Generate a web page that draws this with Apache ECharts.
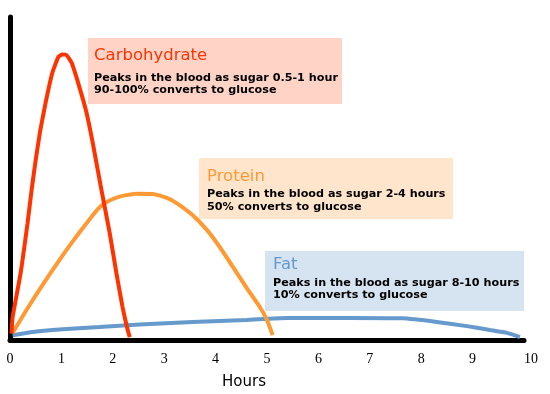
<!DOCTYPE html>
<html>
<head>
<meta charset="utf-8">
<script src="https://cdn.jsdelivr.net/npm/echarts@6/dist/echarts.min.js"></script>
<style>
html,body{margin:0;padding:0;background:#fff;}
#chart{width:550px;height:394px;}
</style>
</head>
<body>
<div id="chart"></div>
<script>
// Data (x = hours, y = relative blood-sugar level, 0-100)
const xTicks = ['0','1','2','3','4','5','6','7','8','9','10'];

const carbHours = [0.03,0.05,0.21,0.34,0.42,0.50,0.59,0.70,0.82,0.94,1.02,1.10,1.20,1.35,1.49,1.61,1.78,1.94,2.07,2.19,2.29,2.33];
const carbLevel = [2.0,7.0,21.0,36.0,46.4,55.7,65.0,74.0,82.5,87.6,88.4,88.2,85.8,78.3,70.3,61.0,46.4,33.1,20.7,10.2,3.1,0.9];

const proteinHours = [0.05,0.32,0.57,0.83,1.10,1.35,1.61,1.74,1.88,2.13,2.46,2.78,3.05,3.24,3.55,3.83,4.08,4.33,4.61,4.86,5.00,5.11];
const proteinLevel = [2.2,9.3,15.5,21.7,27.9,33.3,38.6,41.0,42.7,44.4,45.3,45.2,44.0,42.4,38.7,34.1,28.8,22.8,16.0,10.2,6.2,1.5];

const fatHours = [0.05,0.44,1.10,1.74,2.52,3.55,4.60,5.38,6.61,7.64,8.30,8.89,9.34,9.67,9.92];
const fatLevel = [1.5,2.5,3.4,4.0,4.8,5.6,6.2,6.8,6.8,6.7,5.6,4.3,3.1,2.2,0.9];

const nutrientNames = ['Carbohydrate','Protein','Fat'];
const nutrientLine1 = ['Peaks in the blood as sugar 0.5-1 hour','Peaks in the blood as sugar 2-4 hours','Peaks in the blood as sugar 8-10 hours'];
const nutrientLine2 = ['90-100% converts to glucose','50% converts to glucose','10% converts to glucose'];

const lineColors = ['#FF3300','#FF9933','#6699CC'];
const boxColors = ['#FFD3C6','#FFE5CC','#D6E3F1'];
const boxRects = [[88,38,254,66],[199,158,254,61],[265,251,259,60]];
const textLeft = [94,207,273];
const titleY = [56,177,265];
const bodyY = [[78,90.5],[194,207],[283,295.5]];

function pairs(xs, ys){ return xs.map((x,i)=>[x, ys[i]]); }

const graphics = [];
for (let i=0;i<3;i++){
  const r = boxRects[i];
  graphics.push({type:'rect', z:1, shape:{x:r[0],y:r[1],width:r[2],height:r[3]}, style:{fill:boxColors[i]}});
  graphics.push({type:'text', z:2, x:textLeft[i], y:titleY[i], style:{text:nutrientNames[i], fill:lineColors[i], font:'16.5px "DejaVu Sans"', textAlign:'left', textVerticalAlign:'middle'}});
  graphics.push({type:'text', z:2, x:textLeft[i], y:bodyY[i][0], style:{text:nutrientLine1[i], fill:'#000', font:'bold 11.2px "DejaVu Sans"', textAlign:'left', textVerticalAlign:'middle'}});
  graphics.push({type:'text', z:2, x:textLeft[i], y:bodyY[i][1], style:{text:nutrientLine2[i], fill:'#000', font:'bold 11.2px "DejaVu Sans"', textAlign:'left', textVerticalAlign:'middle'}});
}
graphics.push({type:'text', z:2, x:222, y:382, style:{text:'Hours', fill:'#000', font:'15px "DejaVu Sans"', textAlign:'left', textVerticalAlign:'middle'}});

const chart = echarts.init(document.getElementById('chart'), null, {renderer:'canvas'});
chart.setOption({
  animation:false,
  backgroundColor:'#fff',
  grid:{left:10, right:26, top:17, bottom:54, containLabel:false},
  xAxis:{
    type:'value', min:0, max:10, interval:1,
    axisLine:{show:true, lineStyle:{color:'#000', width:5}},
    axisTick:{show:false},
    splitLine:{show:false},
    axisLabel:{
      color:'#000', fontFamily:'"Liberation Serif", serif', fontSize:14, margin:12,
      formatter:function(v){ const s = xTicks[Math.round(v)]; return v===10 ? '{r|'+s+'}' : s; },
      rich:{r:{padding:[0,0,0,14], fontFamily:'"Liberation Serif", serif', fontSize:14, color:'#000'}}
    }
  },
  yAxis:{
    type:'value', min:0, max:100,
    axisLine:{show:true, lineStyle:{color:'#000', width:5}},
    axisTick:{show:false},
    axisLabel:{show:false},
    splitLine:{show:false}
  },
  graphic:graphics,
  series:[
    {type:'line', name:'Fat', data:pairs(fatHours,fatLevel), showSymbol:false, smooth:0.15, z:3,
     lineStyle:{color:lineColors[2], width:4}},
    {type:'line', name:'Protein', data:pairs(proteinHours,proteinLevel), showSymbol:false, smooth:0.15, z:4,
     lineStyle:{color:lineColors[1], width:4}},
    {type:'line', name:'Carbohydrate', data:pairs(carbHours,carbLevel), showSymbol:false, smooth:0.15, z:5,
     lineStyle:{color:lineColors[0], width:4}}
  ]
});
</script>
</body>
</html>
